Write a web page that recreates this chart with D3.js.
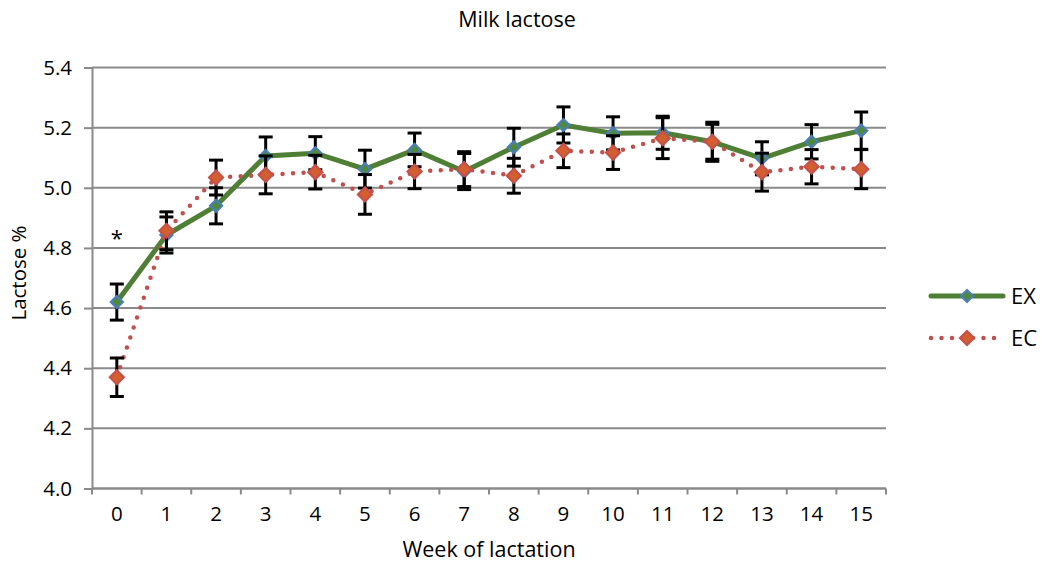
<!DOCTYPE html>
<html>
<head>
<meta charset="utf-8">
<script src="https://cdn.jsdelivr.net/npm/d3@7"></script>
<style>
  html, body { margin: 0; padding: 0; background: #fff; }
  svg { display: block; font-family: "Open Sans", "Noto Sans", sans-serif; }
</style>
</head>
<body>
<svg id="chart" width="1050" height="565"></svg>
<script>
// Week of lactation (categories)
const weeks = [0, 1, 2, 3, 4, 5, 6, 7, 8, 9, 10, 11, 12, 13, 14, 15];
// Lactose % means and standard errors
const exValues = [4.620, 4.843, 4.940, 5.106, 5.115, 5.062, 5.126, 5.054, 5.135, 5.209, 5.181, 5.183, 5.153, 5.098, 5.153, 5.190];
const exErrors = [0.060, 0.060, 0.060, 0.063, 0.055, 0.063, 0.056, 0.060, 0.063, 0.060, 0.055, 0.055, 0.058, 0.055, 0.057, 0.062];
const ecValues = [4.370, 4.857, 5.034, 5.043, 5.052, 4.978, 5.054, 5.062, 5.040, 5.123, 5.117, 5.165, 5.153, 5.052, 5.070, 5.062];
const ecErrors = [0.064, 0.063, 0.058, 0.063, 0.056, 0.066, 0.057, 0.058, 0.058, 0.056, 0.056, 0.068, 0.065, 0.063, 0.057, 0.065];
const yTicks = [4.0, 4.2, 4.4, 4.6, 4.8, 5.0, 5.2, 5.4];
const seriesNames = ["EX", "EC"];
const significantWeeks = [0];

const svg = d3.select("#chart");
const plotLeft = 92, plotRight = 886, plotTop = 67.5, plotBottom = 488.5;

const x = d3.scaleBand().domain(weeks).range([plotLeft, plotRight]).padding(0);
const y = d3.scaleLinear().domain([4.0, 5.4]).range([plotBottom, plotTop]);
const cx = d => x(d) + x.bandwidth() / 2;

const gridColor = "#8a8a8a";
const textColor = "#000";

// Horizontal gridlines
svg.append("g")
  .selectAll("line")
  .data(yTicks)
  .join("line")
  .attr("x1", plotLeft).attr("x2", plotRight)
  .attr("y1", d => y(d)).attr("y2", d => y(d))
  .attr("stroke", gridColor).attr("stroke-width", 2);

// Y axis
const yAxis = svg.append("g")
  .attr("transform", `translate(${plotLeft},0)`)
  .call(d3.axisLeft(y).tickValues(yTicks).tickFormat(d3.format(".1f")).tickSize(8).tickPadding(12));
yAxis.select(".domain").attr("stroke", gridColor).attr("stroke-width", 2);
yAxis.selectAll(".tick line").attr("stroke", gridColor).attr("stroke-width", 2);
yAxis.selectAll(".tick text").attr("font-size", 20.5).attr("fill", textColor).attr("font-family", "Open Sans");

// X axis with tick marks at category boundaries
const xAxis = svg.append("g").attr("transform", `translate(0,${plotBottom})`);
xAxis.append("line")
  .attr("x1", plotLeft).attr("x2", plotRight)
  .attr("stroke", gridColor).attr("stroke-width", 2);
xAxis.selectAll("line.tk")
  .data(weeks.concat([null]))
  .join("line")
  .attr("class", "tk")
  .attr("x1", (d, i) => plotLeft + i * x.bandwidth())
  .attr("x2", (d, i) => plotLeft + i * x.bandwidth())
  .attr("y1", 0).attr("y2", 6)
  .attr("stroke", gridColor).attr("stroke-width", 2);
xAxis.selectAll("text")
  .data(weeks)
  .join("text")
  .attr("x", d => cx(d))
  .attr("y", 32)
  .attr("text-anchor", "middle")
  .attr("font-size", 20.5)
  .attr("fill", textColor)
  .text(d => d);

// Titles
svg.append("text").attr("x", 517).attr("y", 27)
  .attr("text-anchor", "middle").attr("font-size", 21.5).attr("fill", textColor)
  .text("Milk lactose");
svg.append("text").attr("x", 489).attr("y", 557)
  .attr("text-anchor", "middle").attr("font-size", 21.5).attr("fill", textColor)
  .text("Week of lactation");
svg.append("text")
  .attr("transform", "translate(26,273) rotate(-90)")
  .attr("text-anchor", "middle").attr("font-size", 20.5).attr("fill", textColor)
  .text("Lactose %");

const series = [
  { name: seriesNames[0], values: exValues, errors: exErrors,
    line: "#4e7f35", width: 5, dash: null, mFill: "#4e8a3a", mStroke: "#4a7ebb", r: 6 },
  { name: seriesNames[1], values: ecValues, errors: ecErrors,
    line: "#c0504d", width: 4.5, dash: "0 10.5", mFill: "#d2602f", mStroke: "#c8504a", r: 7 }
];

const diamond = (px, py, r) => `M${px},${py - r}L${px + r},${py}L${px},${py + r}L${px - r},${py}Z`;

series.forEach(s => {
  const g = svg.append("g");
  const pts = weeks.map((w, i) => [cx(w), y(s.values[i])]);

  g.append("path")
    .attr("d", d3.line()(pts))
    .attr("fill", "none")
    .attr("stroke", s.line)
    .attr("stroke-width", s.width)
    .attr("stroke-linecap", "round")
    .attr("stroke-linejoin", "round")
    .attr("stroke-dasharray", s.dash);

  // Error bars (± SE)
  const eb = g.append("g").attr("stroke", "#000").attr("stroke-width", 3);
  weeks.forEach((w, i) => {
    const hi = y(s.values[i] + s.errors[i]);
    const lo = y(s.values[i] - s.errors[i]);
    const px = cx(w);
    eb.append("line").attr("x1", px).attr("x2", px).attr("y1", hi).attr("y2", lo);
    eb.append("line").attr("x1", px - 7).attr("x2", px + 7).attr("y1", hi).attr("y2", hi);
    eb.append("line").attr("x1", px - 7).attr("x2", px + 7).attr("y1", lo).attr("y2", lo);
  });

  g.selectAll("path.mk")
    .data(pts)
    .join("path")
    .attr("class", "mk")
    .attr("d", p => diamond(p[0], p[1], s.r))
    .attr("fill", s.mFill)
    .attr("stroke", s.mStroke)
    .attr("stroke-width", 2.2);
});

// Significance marker
svg.selectAll("text.sig")
  .data(significantWeeks)
  .join("text")
  .attr("class", "sig")
  .attr("x", d => cx(d))
  .attr("y", 246)
  .attr("text-anchor", "middle")
  .attr("font-size", 22)
  .attr("fill", textColor)
  .text("*");

// Legend
const legend = svg.append("g");
series.forEach((s, i) => {
  const ly = 296 + i * 42;
  legend.append("line")
    .attr("x1", 931).attr("x2", 1003).attr("y1", ly).attr("y2", ly)
    .attr("stroke", s.line).attr("stroke-width", s.width)
    .attr("stroke-linecap", "round")
    .attr("stroke-dasharray", s.dash);
  legend.append("path")
    .attr("d", diamond(967, ly, s.r))
    .attr("fill", s.mFill).attr("stroke", s.mStroke).attr("stroke-width", 2.2);
  legend.append("text")
    .attr("x", 1011).attr("y", ly + 8)
    .attr("font-size", 22).attr("fill", textColor)
    .text(s.name);
});
</script>
</body>
</html>
